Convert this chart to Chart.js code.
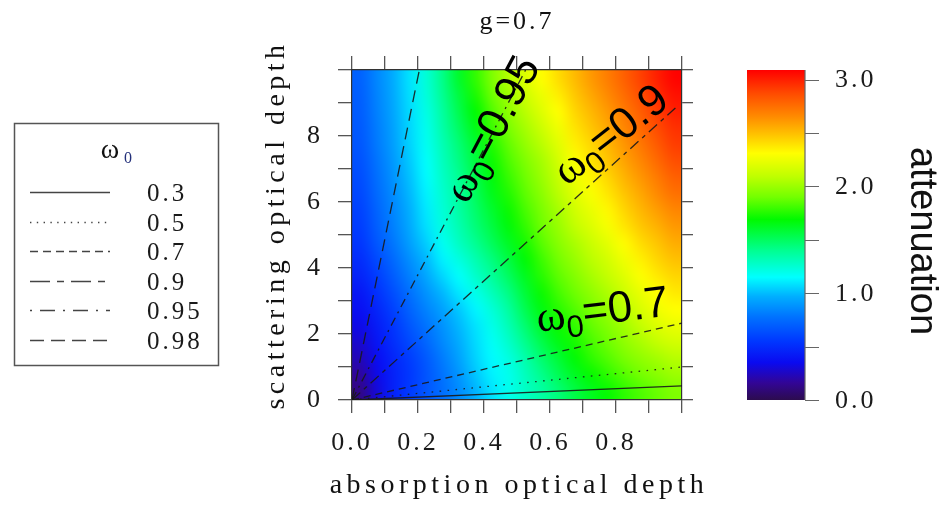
<!DOCTYPE html>
<html>
<head>
<meta charset="utf-8">
<script src="https://cdn.jsdelivr.net/npm/chart.js@4.4.0/dist/chart.umd.min.js"></script>
<style>
  html, body { margin: 0; padding: 0; background: #fff; }
  #wrap { width: 944px; height: 505px; }
</style>
</head>
<body>
<div id="wrap"><canvas id="attChart" width="944" height="505"></canvas></div>
<script>
// cell centres of the attenuation grid
var absorptionDepth = [0.025, 0.075, 0.125, 0.175, 0.225, 0.275, 0.325, 0.375, 0.425, 0.475,
  0.525, 0.575, 0.625, 0.675, 0.725, 0.775, 0.825, 0.875, 0.925, 0.975];
var scatteringDepth = [0.25, 0.75, 1.25, 1.75, 2.25, 2.75, 3.25, 3.75, 4.25, 4.75,
  5.25, 5.75, 6.25, 6.75, 7.25, 7.75, 8.25, 8.75, 9.25, 9.75];

// one row per scattering depth, bottom to top
var attenuation = [
  [0.12, 0.30, 0.45, 0.56, 0.67, 0.76, 0.86, 0.98, 1.09, 1.19, 1.28, 1.36, 1.45, 1.55, 1.63, 1.70, 1.77, 1.83, 1.88, 1.93],
  [0.17, 0.33, 0.45, 0.55, 0.66, 0.78, 0.89, 1.02, 1.12, 1.19, 1.30, 1.41, 1.52, 1.62, 1.70, 1.77, 1.84, 1.90, 1.95, 2.00],
  [0.23, 0.36, 0.47, 0.57, 0.68, 0.81, 0.93, 1.05, 1.14, 1.22, 1.34, 1.47, 1.58, 1.68, 1.77, 1.84, 1.91, 1.97, 2.02, 2.07],
  [0.28, 0.40, 0.51, 0.62, 0.73, 0.85, 0.96, 1.07, 1.17, 1.27, 1.41, 1.54, 1.65, 1.73, 1.82, 1.89, 1.97, 2.04, 2.11, 2.16],
  [0.33, 0.43, 0.54, 0.67, 0.78, 0.88, 0.99, 1.09, 1.20, 1.32, 1.47, 1.61, 1.71, 1.78, 1.87, 1.94, 2.02, 2.11, 2.19, 2.24],
  [0.37, 0.47, 0.59, 0.72, 0.83, 0.93, 1.03, 1.13, 1.24, 1.37, 1.53, 1.66, 1.76, 1.84, 1.92, 1.99, 2.08, 2.18, 2.26, 2.31],
  [0.41, 0.52, 0.64, 0.77, 0.88, 0.99, 1.10, 1.20, 1.31, 1.43, 1.58, 1.71, 1.81, 1.89, 1.97, 2.05, 2.14, 2.24, 2.31, 2.37],
  [0.46, 0.57, 0.69, 0.82, 0.94, 1.06, 1.16, 1.27, 1.38, 1.50, 1.63, 1.76, 1.86, 1.94, 2.03, 2.11, 2.20, 2.30, 2.37, 2.43],
  [0.50, 0.62, 0.74, 0.87, 0.99, 1.12, 1.22, 1.33, 1.44, 1.56, 1.68, 1.80, 1.90, 1.99, 2.08, 2.16, 2.26, 2.35, 2.43, 2.49],
  [0.54, 0.67, 0.79, 0.92, 1.04, 1.18, 1.29, 1.40, 1.51, 1.62, 1.73, 1.85, 1.95, 2.04, 2.13, 2.22, 2.32, 2.41, 2.48, 2.55],
  [0.57, 0.70, 0.82, 0.95, 1.08, 1.22, 1.33, 1.45, 1.56, 1.67, 1.78, 1.89, 1.99, 2.10, 2.19, 2.28, 2.38, 2.47, 2.54, 2.61],
  [0.59, 0.72, 0.84, 0.97, 1.10, 1.24, 1.36, 1.48, 1.60, 1.71, 1.82, 1.92, 2.03, 2.15, 2.24, 2.33, 2.43, 2.52, 2.60, 2.67],
  [0.61, 0.74, 0.86, 0.99, 1.12, 1.26, 1.38, 1.51, 1.64, 1.75, 1.86, 1.96, 2.08, 2.20, 2.29, 2.38, 2.48, 2.57, 2.66, 2.74],
  [0.63, 0.76, 0.88, 1.01, 1.14, 1.28, 1.40, 1.54, 1.67, 1.79, 1.89, 2.00, 2.12, 2.25, 2.34, 2.43, 2.53, 2.62, 2.71, 2.80],
  [0.65, 0.78, 0.90, 1.03, 1.16, 1.30, 1.43, 1.57, 1.71, 1.83, 1.93, 2.03, 2.16, 2.30, 2.39, 2.48, 2.58, 2.67, 2.77, 2.86],
  [0.67, 0.80, 0.92, 1.05, 1.18, 1.32, 1.46, 1.60, 1.75, 1.87, 1.98, 2.08, 2.21, 2.35, 2.43, 2.52, 2.62, 2.72, 2.82, 2.91],
  [0.68, 0.81, 0.93, 1.06, 1.19, 1.35, 1.50, 1.65, 1.80, 1.92, 2.03, 2.14, 2.26, 2.39, 2.48, 2.57, 2.67, 2.77, 2.87, 2.95],
  [0.69, 0.82, 0.94, 1.07, 1.21, 1.37, 1.54, 1.69, 1.84, 1.97, 2.08, 2.20, 2.31, 2.43, 2.52, 2.61, 2.71, 2.81, 2.91, 3.00],
  [0.70, 0.83, 0.95, 1.08, 1.23, 1.40, 1.57, 1.74, 1.89, 2.01, 2.14, 2.25, 2.36, 2.47, 2.57, 2.66, 2.76, 2.86, 2.96, 3.04],
  [0.71, 0.84, 0.96, 1.09, 1.24, 1.42, 1.61, 1.78, 1.93, 2.06, 2.19, 2.31, 2.41, 2.51, 2.61, 2.70, 2.80, 2.90, 3.00, 3.08]
];

// single scattering albedo lines, all starting at the origin
var omegaLabels = ['0.3', '0.5', '0.7', '0.9', '0.95', '0.98'];
var lineEndAbsorption = [1.0, 1.0, 1.0, 0.98, 0.526, 0.204];
var lineEndScattering = [0.43, 1.0, 2.33, 8.85, 10, 10];

var xTickLabels = ['0.0', '0.2', '0.4', '0.6', '0.8'];
var yTickLabels = ['0', '2', '4', '6', '8'];
var colorbarTickValues = [0, 0.5, 1, 1.5, 2, 2.5, 3];
var colorbarTickLabels = ['0.0', '1.0', '2.0', '3.0'];

// styles
var serif = "'Liberation Serif', 'DejaVu Serif', serif";
var sans = "'Liberation Sans', Arial, sans-serif";
var lineDashes = [[], [1.6, 6.4], [7, 5], [11, 5, 4, 5], [9, 5, 2, 5], [12, 7]];
var legendDashes = [[], [1.4, 5.4], [8, 5], [20, 7, 7, 7], [2, 8, 15, 8], [14, 7]];
var colorStops = [
  [0.00, [44, 12, 78]], [0.16, [50, 5, 150]], [0.35, [10, 10, 240]], [0.55, [0, 55, 255]],
  [0.78, [0, 115, 255]], [0.97, [0, 175, 255]], [1.15, [0, 255, 255]], [1.40, [0, 255, 145]],
  [1.69, [0, 250, 0]], [1.90, [115, 255, 0]], [2.09, [190, 255, 0]], [2.31, [255, 255, 0]],
  [2.50, [255, 190, 0]], [2.65, [255, 140, 0]], [2.87, [255, 75, 0]], [3.09, [255, 0, 0]]
];
var labelSpots = [
  { idx: 4, x: 0.418, y: 8.24, angle: -62 },
  { idx: 3, x: 0.779, y: 8.09, angle: -38 },
  { idx: 2, x: 0.758, y: 2.79, angle: -7 }
];

function rgbFor(v) {
  var s = colorStops;
  if (v <= s[0][0]) return s[0][1];
  for (var i = 1; i < s.length; i++) {
    if (v <= s[i][0]) {
      var t = (v - s[i - 1][0]) / (s[i][0] - s[i - 1][0]);
      var a = s[i - 1][1], b = s[i][1];
      return [Math.round(a[0] + (b[0] - a[0]) * t), Math.round(a[1] + (b[1] - a[1]) * t), Math.round(a[2] + (b[2] - a[2]) * t)];
    }
  }
  return s[s.length - 1][1];
}
function colorFor(v) { return 'rgb(' + rgbFor(v).join(',') + ')'; }

var datasets = omegaLabels.map(function(lab, i) {
  return {
    label: lab,
    data: [{ x: 0, y: 0 }, { x: lineEndAbsorption[i], y: lineEndScattering[i] }],
    showLine: true,
    pointRadius: 0,
    borderColor: 'rgba(25,25,25,0.9)',
    borderWidth: 1.3,
    borderDash: lineDashes[i],
    clip: 0
  };
});

// the cells go into a small image, one pixel per cell, which is then
// stretched over the scale extent with smoothing switched on
var heatmapPlugin = {
  id: 'heatmap',
  beforeDraw: function(chart) {
    var ctx = chart.ctx, xs = chart.scales.x, ys = chart.scales.y;
    var nx = absorptionDepth.length, ny = scatteringDepth.length;
    var off = document.createElement('canvas');
    off.width = nx; off.height = ny;
    var octx = off.getContext('2d');
    var img = octx.createImageData(nx, ny);
    for (var j = 0; j < ny; j++) {
      for (var i = 0; i < nx; i++) {
        var c = rgbFor(attenuation[j][i]);
        var k = ((ny - 1 - j) * nx + i) * 4;
        img.data[k] = c[0]; img.data[k + 1] = c[1]; img.data[k + 2] = c[2]; img.data[k + 3] = 255;
      }
    }
    octx.putImageData(img, 0, 0);
    var hx = (absorptionDepth[1] - absorptionDepth[0]) / 2;
    var hy = (scatteringDepth[1] - scatteringDepth[0]) / 2;
    var l = xs.getPixelForValue(absorptionDepth[0] - hx);
    var r = xs.getPixelForValue(absorptionDepth[nx - 1] + hx);
    var t = ys.getPixelForValue(scatteringDepth[ny - 1] + hy);
    var b = ys.getPixelForValue(scatteringDepth[0] - hy);
    ctx.save();
    ctx.fillStyle = '#fff';
    ctx.fillRect(0, 0, chart.width, chart.height);
    ctx.imageSmoothingEnabled = true;
    ctx.imageSmoothingQuality = 'high';
    ctx.drawImage(off, 0, 0, nx, ny, l, t, r - l, b - t);
    ctx.restore();
    ctx.letterSpacing = '3px';
  }
};

function drawOmegaLabel(ctx, px, py, angle, value) {
  ctx.save();
  ctx.letterSpacing = '0px';
  ctx.translate(px, py);
  ctx.rotate(angle * Math.PI / 180);
  var big = 44, small = 31;
  ctx.font = big + 'px ' + serif;
  var wOmega = ctx.measureText('\u03c9').width;
  ctx.font = small + 'px ' + sans;
  var wSub = ctx.measureText('0').width;
  ctx.font = big + 'px ' + sans;
  var wRest = ctx.measureText('=' + value).width;
  var x = -(wOmega + wSub + wRest) / 2, base = big * 0.36;
  ctx.fillStyle = '#000';
  ctx.textAlign = 'left';
  ctx.textBaseline = 'alphabetic';
  ctx.font = big + 'px ' + serif;
  ctx.fillText('\u03c9', x, base);
  x += wOmega;
  ctx.font = small + 'px ' + sans;
  ctx.fillText('0', x, base + big * 0.22);
  x += wSub;
  ctx.font = big + 'px ' + sans;
  ctx.fillText('=' + value, x, base);
  ctx.restore();
}

var decorPlugin = {
  id: 'decor',
  afterDraw: function(chart) {
    var ctx = chart.ctx, area = chart.chartArea;
    var xs = chart.scales.x, ys = chart.scales.y, cs = chart.scales.cbar;

    // curve labels
    labelSpots.forEach(function(s) {
      drawOmegaLabel(ctx, xs.getPixelForValue(s.x), ys.getPixelForValue(s.y), s.angle, omegaLabels[s.idx]);
    });

    // axis titles
    ctx.save();
    ctx.fillStyle = '#111';
    ctx.textAlign = 'center';
    ctx.textBaseline = 'middle';
    ctx.font = '28px ' + serif;
    ctx.letterSpacing = '4.5px';
    ctx.fillText('absorption optical depth', (area.left + area.right) / 2 + 2, 486);
    ctx.translate(277, 225);
    ctx.rotate(-Math.PI / 2);
    ctx.fillText('scattering optical depth', 0, 0);
    ctx.restore();

    // colour bar
    var cbL = area.right + 65, cbW = 58;
    var cbTop = cs.getPixelForValue(cs.max), cbBot = cs.getPixelForValue(cs.min);
    ctx.save();
    var grad = ctx.createLinearGradient(0, cbBot, 0, cbTop);
    colorStops.forEach(function(s) { grad.addColorStop(s[0] / cs.max, colorFor(s[0])); });
    ctx.fillStyle = grad;
    ctx.fillRect(cbL, cbTop, cbW, cbBot - cbTop);
    ctx.strokeStyle = '#666';
    ctx.lineWidth = 1.2;
    ctx.beginPath();
    ctx.moveTo(cbL + cbW, cbTop);
    ctx.lineTo(cbL + cbW, cbBot);
    colorbarTickValues.forEach(function(v) {
      var y = Math.round(cs.getPixelForValue(v)) + 0.5;
      ctx.moveTo(cbL + cbW, y);
      ctx.lineTo(cbL + cbW + 14, y);
    });
    ctx.stroke();
    ctx.fillStyle = '#1a1a1a';
    ctx.font = '26px ' + serif;
    ctx.letterSpacing = '3px';
    ctx.textAlign = 'left';
    ctx.textBaseline = 'middle';
    colorbarTickLabels.forEach(function(lab) {
      ctx.fillText(lab, cbL + cbW + 30, cs.getPixelForValue(parseFloat(lab)) + 1);
    });
    ctx.letterSpacing = '0px';
    ctx.font = '38px ' + sans;
    ctx.fillStyle = '#111';
    ctx.textAlign = 'center';
    ctx.translate(921, 241);
    ctx.rotate(Math.PI / 2);
    ctx.fillText('attenuation', 0, 0);
    ctx.restore();

    // legend box
    ctx.save();
    ctx.strokeStyle = '#555';
    ctx.lineWidth = 1.5;
    ctx.strokeRect(14.5, 123.5, 204, 242);
    ctx.fillStyle = '#111';
    ctx.textAlign = 'center';
    ctx.textBaseline = 'alphabetic';
    ctx.letterSpacing = '0px';
    ctx.font = '28px ' + serif;
    ctx.fillText('\u03c9', 110, 158);
    ctx.fillStyle = '#23307a';
    ctx.font = '16px ' + serif;
    ctx.fillText('0', 128, 163);
    chart.data.datasets.forEach(function(ds, i) {
      var y = Math.round(192 + i * 29.6) + 0.5;
      ctx.save();
      ctx.strokeStyle = '#444';
      ctx.lineWidth = 1.3;
      ctx.setLineDash(legendDashes[i]);
      ctx.beginPath();
      ctx.moveTo(30, y);
      ctx.lineTo(110, y);
      ctx.stroke();
      ctx.restore();
      ctx.fillStyle = '#1a1a1a';
      ctx.font = '25px ' + serif;
      ctx.letterSpacing = '3px';
      ctx.textAlign = 'left';
      ctx.textBaseline = 'middle';
      ctx.fillText(ds.label, 147, y + 1.5);
    });
    ctx.restore();
  }
};

var tickGrid = function(len) {
  return { display: true, drawOnChartArea: false, drawTicks: true, tickLength: len, color: '#555', lineWidth: 1.3 };
};
var frame = { display: true, color: '#333', width: 1.2 };

var chart = new Chart(document.getElementById('attChart').getContext('2d'), {
  type: 'scatter',
  data: { datasets: datasets },
  options: {
    responsive: false,
    animation: false,
    devicePixelRatio: 1,
    layout: { padding: { left: 260, right: 251, top: 0, bottom: 0 } },
    plugins: {
      legend: { display: false },
      tooltip: { enabled: false },
      title: {
        display: true,
        text: 'g=0.7',
        fullSize: false,
        color: '#111',
        font: { family: serif, size: 26, weight: 'normal', lineHeight: 1.1 },
        padding: { top: 8, bottom: 19.4 }
      }
    },
    scales: {
      x: {
        type: 'linear', position: 'bottom', min: 0, max: 1,
        ticks: {
          stepSize: 0.1, autoSkip: false, maxRotation: 0, padding: 15, color: '#1a1a1a',
          font: { family: serif, size: 26 },
          callback: function(v) {
            var s = (Math.round(v * 10) / 10).toFixed(1);
            return xTickLabels.indexOf(s) >= 0 ? s : '';
          }
        },
        grid: tickGrid(13), border: frame,
        afterFit: function(s) { s.height = 105; }
      },
      xTop: {
        type: 'linear', position: 'top', min: 0, max: 1,
        ticks: { display: false, stepSize: 0.1, autoSkip: false },
        grid: tickGrid(14), border: frame,
        afterFit: function(s) { s.height = 14; }
      },
      y: {
        type: 'linear', position: 'left', min: 0, max: 10,
        ticks: {
          stepSize: 1, autoSkip: false, padding: 15, color: '#1a1a1a',
          font: { family: serif, size: 26 },
          callback: function(v) {
            var s = String(Math.round(v));
            return yTickLabels.indexOf(s) >= 0 ? s : '';
          }
        },
        grid: tickGrid(14), border: frame,
        afterFit: function(s) { s.width = 92; }
      },
      yRight: {
        type: 'linear', position: 'right', min: 0, max: 10,
        ticks: { display: false, stepSize: 1, autoSkip: false },
        grid: tickGrid(11), border: frame,
        afterFit: function(s) { s.width = 11; }
      },
      cbar: { type: 'linear', position: 'right', min: 0, max: 3.09, display: false }
    }
  },
  plugins: [heatmapPlugin, decorPlugin]
});
</script>
</body>
</html>
